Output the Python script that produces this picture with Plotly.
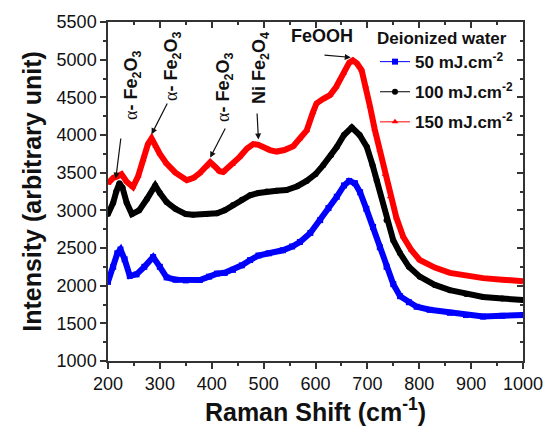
import plotly.graph_objects as go

# ---------------- data ----------------
x_50 = [200, 210, 218, 224, 232, 242, 255, 270, 287, 300, 313, 330, 350, 377, 395, 410, 425, 441, 458, 474,
        490, 510, 537, 555, 570, 590, 609, 625, 641, 655, 665, 676, 686, 698, 711, 724, 737, 750, 763, 780,
        795, 820, 859, 890, 923, 960, 1000]
y_50 = [2050, 2250, 2430, 2480, 2350, 2130, 2150, 2250, 2380, 2250, 2110, 2080, 2070, 2075, 2120, 2160, 2170, 2210, 2270, 2340,
        2400, 2430, 2470, 2520, 2580, 2700, 2870, 3030, 3180, 3330, 3390, 3360, 3240, 3020, 2780, 2510, 2250, 2020, 1860, 1780,
        1720, 1680, 1640, 1610, 1590, 1600, 1610]

x_100 = [200, 210, 216, 222, 228, 236, 246, 260, 275, 291, 300, 313, 330, 350, 364, 390, 410, 425, 441, 458,
         474, 490, 506, 525, 544, 565, 583, 600, 615, 630, 641, 655, 670, 685, 699, 710, 718, 737, 750, 763,
         780, 801, 830, 859, 890, 923, 960, 1000]
y_100 = [2950, 3100, 3250, 3360, 3300, 3100, 2950, 3000, 3150, 3330, 3230, 3110, 3020, 2950, 2940, 2950, 2960, 3000, 3070, 3140,
         3200, 3230, 3250, 3260, 3270, 3320, 3390, 3480, 3600, 3730, 3840, 4000, 4100, 4000, 3840, 3600, 3400, 2870, 2600, 2430,
         2250, 2120, 2010, 1940, 1890, 1850, 1830, 1810]

x_150 = [200, 210, 218, 226, 236, 248, 258, 268, 277, 284, 292, 300, 313, 330, 352, 365, 377, 390, 397, 405,
         415, 422, 440, 454, 468, 480, 490, 499, 512, 525, 540, 557, 570, 583, 595, 602, 615, 628, 640, 654,
         665, 672, 680, 689, 697, 705, 714, 724, 734, 744, 756, 769, 785, 801, 830, 859, 890, 923, 960, 1000]
y_150 = [3360, 3430, 3450, 3480, 3380, 3310, 3450, 3670, 3880, 3955, 3850, 3750, 3620, 3500, 3400, 3430, 3495, 3580, 3640, 3590,
         3520, 3510, 3610, 3710, 3820, 3880, 3870, 3840, 3800, 3780, 3800, 3850, 3950, 4060, 4300, 4420, 4480, 4530, 4640, 4820,
         4960, 4990, 4950, 4860, 4650, 4380, 4080, 3800, 3480, 3180, 2900, 2650, 2470, 2340, 2240, 2170, 2130, 2100, 2080, 2060]

series_names = ["50 mJ.cm<sup>-2</sup>", "100 mJ.cm<sup>-2</sup>", "150 mJ.cm<sup>-2</sup>"]
series_colors = ["#0000FF", "#000000", "#FF0000"]
series_symbols = ["square", "circle", "triangle-up"]

x_ticks = [200, 300, 400, 500, 600, 700, 800, 900, 1000]
y_ticks = [1000, 1500, 2000, 2500, 3000, 3500, 4000, 4500, 5000, 5500]

FONT = "Liberation Sans, Arial, sans-serif"

# plot area in pixels
L, R, T, B = 108, 523, 22, 361
W, H = 554, 432

fig = go.Figure()

for xs, ys, col, sym in zip([x_50, x_100, x_150], [y_50, y_100, y_150], series_colors, series_symbols):
    fig.add_trace(go.Scatter(x=xs, y=ys, mode="lines+markers", showlegend=False, hoverinfo="skip",
                             line=dict(color=col, width=6),
                             marker=dict(symbol=sym, size=6, color=col)))

# legend-only traces (thin line + marker)
for i, (name, col, sym) in enumerate(zip(series_names, series_colors, series_symbols)):
    fig.add_trace(go.Scatter(x=[None], y=[None], mode="lines+markers", name="<b>" + name + "</b>",
                             legendgroup="g%d" % i,
                             line=dict(color=col, width=1),
                             marker=dict(symbol=sym, size=6, color=col)))

# dummy trace for the mirrored axes
fig.add_trace(go.Scatter(x=[None], y=[None], xaxis="x2", yaxis="y2", showlegend=False, hoverinfo="skip"))

axis_common = dict(showline=True, linecolor="#333333", linewidth=1.5, showgrid=False, zeroline=False,
                   tickcolor="#333333", tickwidth=1.5, ticklen=6, automargin=False)

fig.update_layout(
    width=W, height=H,
    margin=dict(l=L, r=W - R, t=T, b=H - B),
    paper_bgcolor="white", plot_bgcolor="white",
    font=dict(family=FONT, color="#111111"),
    xaxis=dict(range=[200, 1000], tickvals=x_ticks, ticks="outside",
               tickfont=dict(size=18, family=FONT, color="#111111"),
               title=dict(text="<b>Raman Shift (cm<sup>-1</sup>)</b>", font=dict(size=25, family=FONT), standoff=6),
               minor=dict(ticks="outside", ticklen=3, dtick=50, tickcolor="#333333", tickwidth=1.5),
               **axis_common),
    yaxis=dict(range=[1000, 5500], tickvals=y_ticks, ticks="outside",
               tickfont=dict(size=18, family=FONT, color="#111111"),
               title=dict(text="<b>Intensity (arbitrary unit)</b>", font=dict(size=25, family=FONT), standoff=8),
               minor=dict(ticks="outside", ticklen=3, dtick=250, tickcolor="#333333", tickwidth=1.5),
               **axis_common),
    xaxis2=dict(range=[200, 1000], overlaying="x", side="top", anchor="y", tickvals=x_ticks, ticks="inside",
                showticklabels=False,
                minor=dict(ticks="inside", ticklen=3, dtick=50, tickcolor="#333333", tickwidth=1.5),
                **axis_common),
    yaxis2=dict(range=[1000, 5500], overlaying="y", side="right", anchor="x", tickvals=y_ticks, ticks="inside",
                showticklabels=False,
                minor=dict(ticks="inside", ticklen=3, dtick=250, tickcolor="#333333", tickwidth=1.5),
                **axis_common),
    legend=dict(x=(518 - L) / (R - L), y=1 - (22 - T) / (B - T), xanchor="right", yanchor="top",
                bgcolor="rgba(0,0,0,0)",
                font=dict(size=17, family=FONT, color="#111111"),
                title=dict(text="<b>Deionized water</b>", font=dict(size=17, family=FONT), side="top"),
                tracegroupgap=5, itemwidth=30),
)

# annotations: labels (pixel centers)
alpha = "<span style='font-family:Liberation Serif, serif'>α</span>"
labels = [
    (alpha + "<b>- Fe<sub>2</sub>O<sub>3</sub></b>", 132, 85, -90),
    (alpha + "<b>- Fe<sub>2</sub>O<sub>3</sub></b>", 172, 66, -90),
    (alpha + "<b>- Fe<sub>2</sub>O<sub>3</sub></b>", 224, 87, -90),
    ("<b>Ni Fe<sub>2</sub>O<sub>4</sub></b>", 260, 68, -90),
    ("<b>FeOOH</b>", 322, 36, 0),
]
for txt, px, py, ang in labels:
    fig.add_annotation(text=txt, xref="paper", yref="paper",
                       x=(px - L) / (R - L), y=1 - (py - T) / (B - T),
                       xanchor="center", yanchor="middle",
                       showarrow=False, textangle=ang,
                       font=dict(size=18, family=FONT, color="#111111"))

# arrows (data target <- pixel start)
arrows = [
    (215, 3420, 121, 137),
    (284, 4010, 168, 102),
    (397, 3700, 226, 127),
    (490, 3940, 257, 112),
    (668, 5030, 323, 55),
]
for tx, ty, sx, sy in arrows:
    tpx = L + (tx - 200) / 800 * (R - L)
    tpy = T + (5500 - ty) / 4500 * (B - T)
    fig.add_annotation(x=tx, y=ty, xref="x", yref="y", text="", showarrow=True,
                       ax=sx - tpx, ay=sy - tpy, axref="pixel", ayref="pixel",
                       arrowhead=2, arrowsize=1, arrowwidth=1.2, arrowcolor="#111111")

fig.write_html("out.html", config={"displayModeBar": False},
               post_script="document.body.style.margin='0px';")
